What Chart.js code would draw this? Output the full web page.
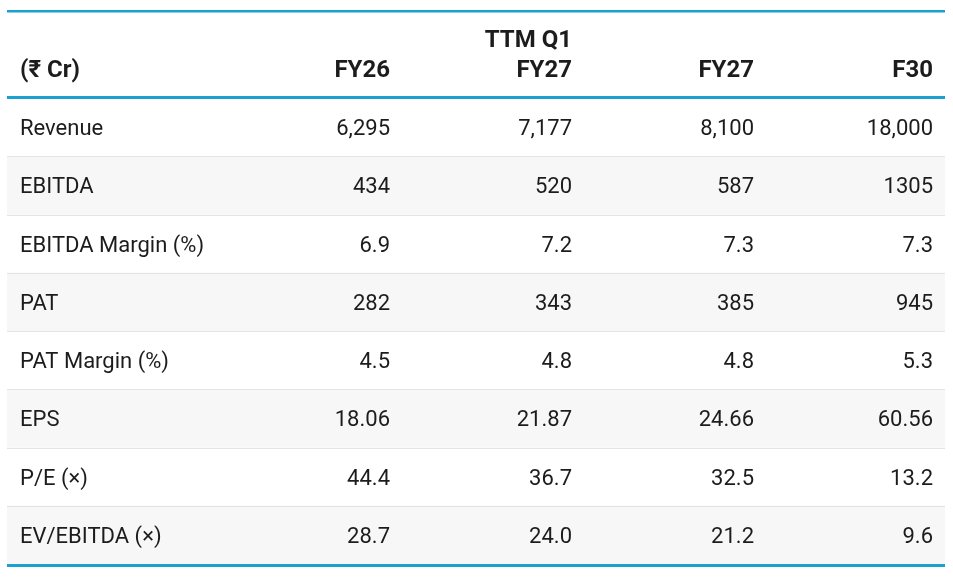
<!DOCTYPE html>
<html>
<head>
<meta charset="utf-8">
<script src="https://cdn.jsdelivr.net/npm/chart.js"></script>
<style>
  body { margin: 0; background: #fff; overflow: hidden; }
</style>
</head>
<body>
<canvas id="table" width="953" height="580"></canvas>
<script>

    const unitLabel = '(₹ Cr)';
    const columns = [['FY26'], ['TTM Q1', 'FY27'], ['FY27'], ['F30']];
    const rows = ['Revenue', 'EBITDA', 'EBITDA Margin (%)', 'PAT', 'PAT Margin (%)', 'EPS', 'P/E (×)', 'EV/EBITDA (×)'];

    const fy26 = ['6,295', '434', '6.9', '282', '4.5', '18.06', '44.4', '28.7'];
    const ttmQ1fy27 = ['7,177', '520', '7.2', '343', '4.8', '21.87', '36.7', '24.0'];
    const fy27 = ['8,100', '587', '7.3', '385', '4.8', '24.66', '32.5', '21.2'];
    const f30 = ['18,000', '1305', '7.3', '945', '5.3', '60.56', '13.2', '9.6'];

    const values = [fy26, ttmQ1fy27, fy27, f30];

    // every second row gets the grey band
    const shade = rows.map((r, i) => i % 2 === 1 ? 1 : null);

    const tableText = {
        id: 'tableText',
        afterDatasetsDraw(chart, args, opts) {
            const {ctx, chartArea: {top, bottom, left, right}} = chart;
            const y = chart.scales.y;
            const half = (y.getPixelForValue(1) - y.getPixelForValue(0)) / 2;

            ctx.save();

            // row separators
            ctx.strokeStyle = '#e4e4e4';
            ctx.lineWidth = 1;
            for (let i = 0; i < rows.length - 1; i++) {
                const yy = Math.round(y.getPixelForValue(i) + half) + 0.5;
                ctx.beginPath();
                ctx.moveTo(left, yy);
                ctx.lineTo(right, yy);
                ctx.stroke();
            }

            // blue rules
            ctx.strokeStyle = opts.rule;
            ctx.lineWidth = 2.5;
            ctx.beginPath();
            ctx.moveTo(left, 11.2);
            ctx.lineTo(right, 11.2);
            ctx.stroke();
            ctx.lineWidth = 3;
            ctx.beginPath();
            ctx.moveTo(left, top - 0.5);
            ctx.lineTo(right, top - 0.5);
            ctx.moveTo(left, bottom + 1.5);
            ctx.lineTo(right, bottom + 1.5);
            ctx.stroke();

            ctx.fillStyle = '#1c1c1c';
            ctx.textBaseline = 'alphabetic';

            // header
            ctx.font = 'bold 24px Roboto';
            ctx.textAlign = 'left';
            ctx.fillText(unitLabel, left + 13, 77);
            ctx.textAlign = 'right';
            columns.forEach((lines, c) => {
                lines.forEach((t, k) => {
                    ctx.fillText(t, opts.colRight[c], 77 - (lines.length - 1 - k) * 30);
                });
            });

            // body
            ctx.font = '22px Roboto';
            ctx.textBaseline = 'alphabetic';
            rows.forEach((r, i) => {
                const yy = y.getPixelForValue(i) + 8;
                ctx.textAlign = 'left';
                ctx.fillText(r, left + 13, yy);
                ctx.textAlign = 'right';
                values.forEach((col, c) => {
                    ctx.fillText(col[i], opts.colRight[c], yy);
                });
            });

            ctx.restore();
        }
    };

    const config = {
        type: 'bar',
        data: {
            labels: rows,
            datasets: [{
                data: shade,
                backgroundColor: '#f7f7f7',
                borderWidth: 0,
                barPercentage: 1,
                categoryPercentage: 1
            }]
        },
        options: {
            indexAxis: 'y',
            responsive: false,
            animation: false,
            layout: {
                padding: {left: 7, right: 8, top: 98, bottom: 16}
            },
            scales: {
                x: {display: false, min: 0, max: 1},
                y: {display: false}
            },
            plugins: {
                legend: {display: false},
                tooltip: {enabled: false},
                tableText: {
                    rule: '#1ba1d0',
                    colRight: [390, 572, 754, 933]
                }
            }
        },
        plugins: [tableText]
    };

    const table = new Chart(document.getElementById('table'), config);
</script>
</body>
</html>
